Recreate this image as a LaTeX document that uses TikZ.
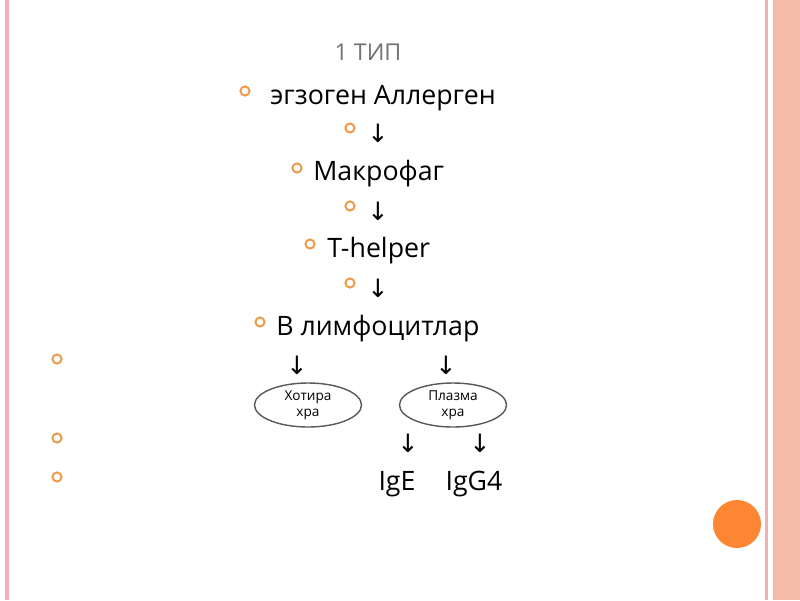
\documentclass[tikz,border=0pt]{standalone}
\usepackage{fontspec}
\setmainfont{Open Sans}
\newfontfamily\pfeilfont{DejaVu Sans}
\usetikzlibrary{shapes.geometric}
\definecolor{rahmenrosa}{HTML}{F5AEB3}
\definecolor{lachs}{HTML}{F4BBA8}
\definecolor{punktorange}{HTML}{EE9A48}
\definecolor{kreisorange}{HTML}{FC8632}
\tikzset{
  punkt/.style={circle, draw=punktorange, line width=1.4pt, inner sep=0pt, minimum size=6.5pt},
  zeile/.style={font=\fontsize{19}{22}\selectfont, inner sep=0pt},
  pfeil/.style={font=\pfeilfont\fontsize{18}{21}\selectfont, inner sep=0pt},
  zelle/.style={ellipse, draw=black!65, line width=1pt, minimum width=2.675cm, minimum height=1.1cm,
    align=center, font=\fontsize{9.7}{11.5}\selectfont, inner sep=0pt}
}
\begin{document}
\begin{tikzpicture}[x=0.025cm, y=-0.025cm]
    \useasboundingbox (0,0) rectangle (800,600);
    % Hintergrund und Rand
    \fill[white] (0,0) rectangle (800,600);
    \fill[rahmenrosa] (5,0) rectangle (9,600);
    \fill[rahmenrosa] (765,0) rectangle (768,600);
    \fill[lachs] (773,0) rectangle (800,600);
    \fill[kreisorange] (737,524) circle (24);
    % Titel
    \node[font=\fontsize{16.5}{19}\selectfont, text=black!55, inner sep=0pt] (titel) at (368,52) {1 ТИП};
    % Aufzaehlungspunkte
    \node[punkt] (p1) at (245,91) {};
    \node[punkt] (p2) at (350,128) {};
    \node[punkt] (p3) at (297,168) {};
    \node[punkt] (p4) at (350,206) {};
    \node[punkt] (p5) at (310,244) {};
    \node[punkt] (p6) at (350,283) {};
    \node[punkt] (p7) at (260,322) {};
    \node[punkt] (p8) at (57,359) {};
    \node[punkt] (p9) at (57,438) {};
    \node[punkt] (p10) at (57,477) {};
    % Kette
    \node[zeile, anchor=west] (allergen) at (270,98) {эгзоген Аллерген};
    \node[pfeil] (pf1) at (378,133) {↓};
    \node[zeile, anchor=west] (makrofag) at (313,174) {Макрофаг};
    \node[pfeil] (pf2) at (378,211) {↓};
    \node[zeile, anchor=west] (thelper) at (327,251) {T-helper};
    \node[pfeil] (pf3) at (378,288) {↓};
    \node[zeile, anchor=west] (blimfo) at (276,329) {B лимфоцитлар};
    % Verzweigung
    \node[pfeil] (pf4) at (297,365) {↓};
    \node[pfeil] (pf5) at (446,365) {↓};
    \node[zelle] (hotira) at (308,405) {Хотира\\хра};
    \node[zelle] (plazma) at (453,405) {Плазма\\хра};
    \node[pfeil] (pf6) at (408,443) {↓};
    \node[pfeil] (pf7) at (480,443) {↓};
    \node[zeile] (ige) at (397,484) {IgE};
    \node[zeile] (igg) at (474,484) {IgG4};
\end{tikzpicture}
\end{document}
